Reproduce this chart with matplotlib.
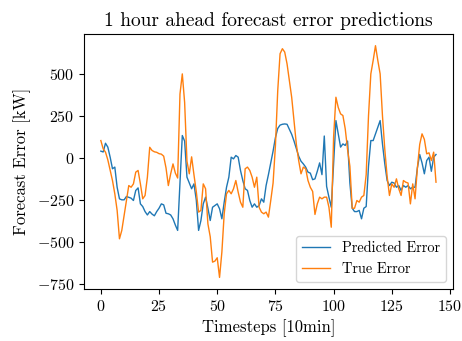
import numpy as np
import matplotlib
matplotlib.use("Agg")
import matplotlib.pyplot as plt
from matplotlib.ticker import MultipleLocator

# forecast error values, one per 10 min timestep
predicted_error = [
    40, 35, 87, 64, 4, -65, -55, -175, -244, -250,
    -250, -230, -235, -240, -254, -194, -179, -274, -290, -320,
    -340, -320, -335, -345, -320, -300, -274, -280, -330, -333,
    -340, -363, -400, -432, -150, 133, 100, -115, -150, -184,
    -155, -250, -432, -373, -274, -234, -300, -373, -294, -284,
    -274, -303, -363, -264, -175, -115, 4, -6, 14, 4,
    -75, -135, -184, -194, -254, -294, -274, -294, -284, -244,
    -264, -165, -100, -30, 40, 120, 175, 195, 200, 202,
    200, 170, 140, 100, 55, 10, -20, -36, -55, -85,
    -91, -130, -125, -80, -30, -100, 130, -170, -234, -294,
    -40, 222, 143, 64, 83, 74, 100, -150, -300, -320,
    -320, -313, -363, -300, -290, -50, 103, 103, 143, 182,
    222, 83, -36, -135, -165, -145, -150, -175, -165, -194,
    -165, -175, -165, -184, -175, -175, -60, 20, -30, -95,
    -16, 4, -80, 4, 20,
]
true_error = [
    103, 54, 34, -12, -75, -135, -214, -313, -482, -432,
    -343, -254, -165, -175, -155, -85, -75, -155, -244, -224,
    -115, 63, 44, 36, 33, 25, 22, 10, -60, -165,
    -95, -36, -90, -120, 380, 500, 330, -20, -95, 6,
    -100, -200, -323, -313, -155, -184, -393, -470, -621, -615,
    -595, -712, -561, -333, -214, -194, -214, -184, -135, -204,
    -264, -294, -65, -55, -75, -115, -175, -115, -294, -323,
    -333, -323, -353, -254, -150, 70, 400, 620, 650, 630,
    560, 460, 360, 220, 80, -16, -95, -55, -65, -135,
    -175, -200, -337, -274, -234, -244, -234, -234, -294, -413,
    123, 361, 300, 262, 252, 173, 50, -50, -300, -300,
    -254, -264, -234, -224, -100, 250, 500, 580, 668, 580,
    500, 250, 50, -110, -224, -155, -175, -125, -184, -224,
    -135, -145, -150, -274, -155, -244, -60, 80, 143, 110,
    24, 30, -16, 34, -145,
]
timesteps = np.arange(len(true_error))

plt.rcParams['font.family'] = 'serif'
plt.rcParams['font.serif'] = ['cmr10']
plt.rcParams['mathtext.fontset'] = 'cm'
plt.rcParams['axes.formatter.use_mathtext'] = True

fig = plt.figure(figsize=(4.62, 3.41), dpi=100)
ax = fig.add_axes([0.182, 0.1525, 0.798, 0.7475])
ax.plot(timesteps, predicted_error, color='tab:blue', linewidth=1, label='Predicted Error')
ax.plot(timesteps, true_error, color='tab:orange', linewidth=1, label='True Error')

ax.xaxis.set_major_locator(MultipleLocator(25))
ax.yaxis.set_major_locator(MultipleLocator(250))

ax.set_title('1 hour ahead forecast error predictions', fontsize=14)
ax.set_xlabel('Timesteps [10min]', fontsize=12)
ax.set_ylabel('Forecast Error [kW]', fontsize=12)
ax.tick_params(labelsize=11.5)
ax.legend(loc='lower right', fontsize=10.3)

fig.savefig('out.png', dpi=100)
